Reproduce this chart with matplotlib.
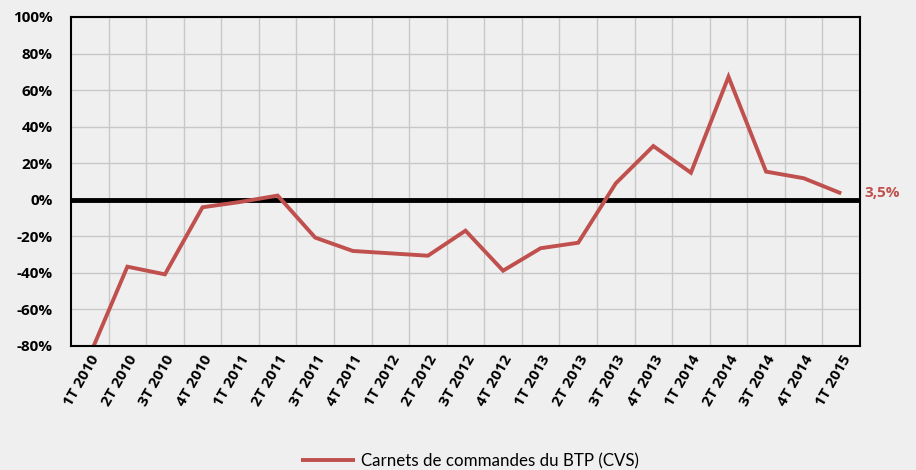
import matplotlib
matplotlib.use("Agg")
import matplotlib.pyplot as plt
import numpy as np

categories = ["1T 2010", "2T 2010", "3T 2010", "4T 2010", "1T 2011", "2T 2011", "3T 2011",
              "4T 2011", "1T 2012", "2T 2012", "3T 2012", "4T 2012", "1T 2013", "2T 2013",
              "3T 2013", "4T 2013", "1T 2014", "2T 2014", "3T 2014", "4T 2014", "1T 2015"]
values = [-85.0, -36.6, -40.8, -4.1, -1.2, 2.3, -20.7, -28.0, -29.3, -30.6, -16.9, -38.8,
          -26.5, -23.5, 9.0, 29.4, 14.8, 67.3, 15.4, 11.8, 3.5]
y_ticks = [-80, -60, -40, -20, 0, 20, 40, 60, 80, 100]
series_label = "Carnets de commandes du BTP (CVS)"
end_label = "3,5%"

BG = "#efefef"
RED = "#c0504d"
BOLDFONT = ["Open Sans", "DejaVu Sans"]
plt.rcParams["font.family"] = BOLDFONT

fig = plt.figure(figsize=(9.16, 4.70), dpi=100, facecolor=BG)
ax = fig.add_axes([71/916, 1-346/470, (860-71)/916, (346-17)/470], facecolor=BG)

n = len(categories)
x = np.arange(n)
ax.set_xlim(-0.5, n - 0.5)
ax.set_ylim(-80, 100)

# grid
for b in np.arange(0.5, n - 0.5, 1.0):
    ax.axvline(b, color="#c8c8c8", lw=1.0, zorder=1)
for t in y_ticks:
    ax.axhline(t, color="#c8c8c8", lw=1.0, zorder=1)
ax.axhline(0, color="black", lw=3.5, zorder=2)

line, = ax.plot(x, values, color=RED, lw=2.8, zorder=3, label=series_label,
                solid_capstyle="butt", solid_joinstyle="miter")

ax.set_yticks(y_ticks)
ax.set_yticklabels([f"{t}%" for t in y_ticks], fontsize=11, fontweight="bold")
ax.set_xticks(x)
ax.set_xticklabels(categories, rotation=60, ha="right", rotation_mode="anchor",
                   fontsize=11, fontweight="bold")
ax.tick_params(axis="y", length=0, pad=13)
ax.tick_params(axis="x", length=0, pad=5)

for s in ax.spines.values():
    s.set_color("black")
    s.set_linewidth(1.5)
    s.set_zorder(4)

ax.annotate(end_label, xy=(x[-1], values[-1]), xytext=(17, 0), textcoords="offset points",
            color=RED, fontsize=11, fontweight="bold", va="center", ha="left",
            annotation_clip=False)

fig.legend(handles=[line], labels=[series_label], loc="center", bbox_to_anchor=(0.513, 1-461/470),
           frameon=False, prop={"family": ["Lato", "DejaVu Sans"], "size": 12.2},
           handlelength=3.2, handletextpad=0.35)

fig.savefig("out.png", dpi=100, facecolor=BG)
